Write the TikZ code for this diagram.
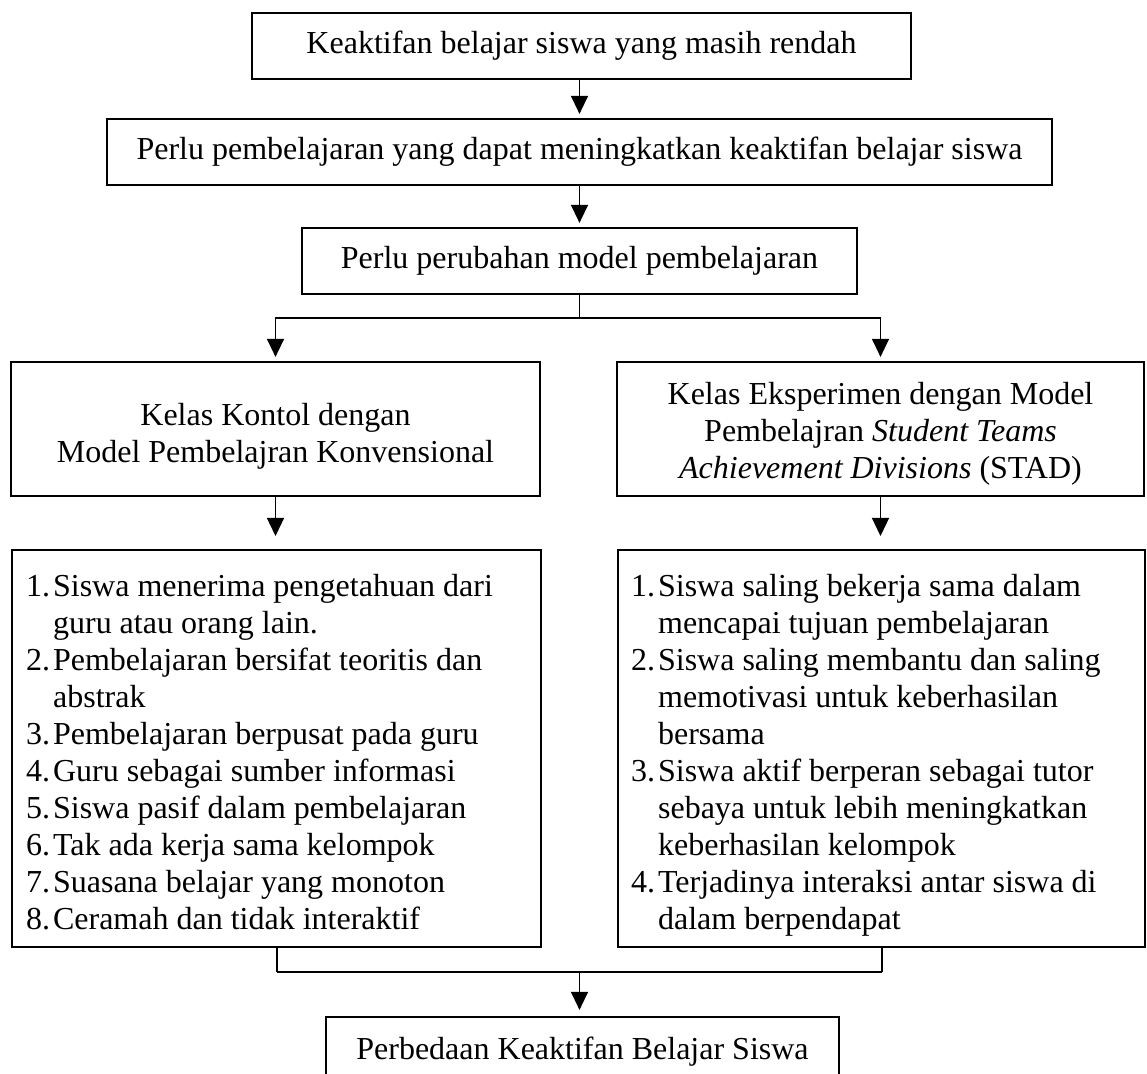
\documentclass[tikz,border=0pt]{standalone}
\usepackage{fontspec}
\setmainfont{Liberation Serif}
\usetikzlibrary{arrows.meta}
\newcommand{\itm}[1]{\makebox[13.5pt][l]{#1}}
\newcommand{\cnt}{\hspace*{13.5pt}}
\tikzset{
  box/.style={draw, line width=1.1pt, inner sep=0pt, align=center,
    font=\fontsize{16pt}{18.5pt}\selectfont},
  listbox/.style={box, anchor=north west, minimum height=198.5pt},
  conn/.style={line width=0.65pt},
  arr/.style={conn, -{Triangle[width=8.5pt,length=9pt]}, shorten >=2pt},
}
\begin{document}
\begin{tikzpicture}[x=0.5pt,y=-0.5pt]
\useasboundingbox (0,0) rectangle (1147,1074);
\clip (0,0) rectangle (1147,1074);

\node[box, minimum width=329.5pt, minimum height=33pt] (b1) at (581.5,46)
  {Keaktifan belajar siswa yang masih rendah};
\node[box, minimum width=472.5pt, minimum height=33pt] (b2) at (579.5,152)
  {Perlu pembelajaran yang dapat meningkatkan keaktifan belajar siswa};
\node[box, minimum width=277.5pt, minimum height=33pt] (b3) at (579.5,261)
  {Perlu perubahan model pembelajaran};
\node[box, minimum width=264.5pt, minimum height=67pt] (b4) at (275.5,429)
  {\rule{0pt}{18pt}Kelas Kontol dengan\\Model Pembelajran Konvensional};
\node[box, minimum width=263.5pt, minimum height=67pt] (b5) at (880.5,429)
  {\rule{0pt}{16pt}Kelas Eksperimen dengan Model\\Pembelajran \textit{Student Teams}\\\textit{Achievement Divisions} (STAD)};

\node[listbox, minimum width=264.5pt, inner xsep=7pt] (b6) at (11,549)
  {\parbox[t][198.5pt][t]{250.5pt}{\raggedright\vspace*{10.5pt}\strut
  \itm{1.}Siswa menerima pengetahuan dari\\
  \cnt guru atau orang lain.\\
  \itm{2.}Pembelajaran bersifat teoritis dan\\
  \cnt abstrak\\
  \itm{3.}Pembelajaran berpusat pada guru\\
  \itm{4.}Guru sebagai sumber informasi\\
  \itm{5.}Siswa pasif dalam pembelajaran\\
  \itm{6.}Tak ada kerja sama kelompok\\
  \itm{7.}Suasana belajar yang monoton\\
  \itm{8.}Ceramah dan tidak interaktif}};
\node[listbox, minimum width=263.5pt, inner xsep=6.5pt] (b7) at (617,549)
  {\parbox[t][198.5pt][t]{250.5pt}{\raggedright\vspace*{10.5pt}\strut
  \itm{1.}Siswa saling bekerja sama dalam\\
  \cnt mencapai tujuan pembelajaran\\
  \itm{2.}Siswa saling membantu dan saling\\
  \cnt memotivasi untuk keberhasilan\\
  \cnt bersama\\
  \itm{3.}Siswa aktif berperan sebagai tutor\\
  \cnt sebaya untuk lebih meningkatkan\\
  \cnt keberhasilan kelompok\\
  \itm{4.}Terjadinya interaksi antar siswa di\\
  \cnt dalam berpendapat}};

\node[box, minimum width=256.5pt, minimum height=35pt] (b8) at (582.5,1052)
  {Perbedaan Keaktifan Belajar Siswa};

\draw[arr] (b2.north |- b1.south) -- (b2.north);
\draw[arr] (b2.south) -- (b3.north);
\coordinate (j1) at (579.5,318);
\draw[conn] (b3.south) -- (j1);
\draw[arr] (j1) -| (b4.north);
\draw[arr] (j1) -| (b5.north);
\draw[arr, shorten >=6.5pt] (b4.south) -- (b4.south |- b6.north);
\draw[arr, shorten >=6.5pt] (b5.south) -- (b5.south |- b7.north);
\coordinate (j2) at (579.5,972);
\draw[line width=1pt] (b6.south) -- (b6.south |- j2);
\draw[line width=1pt] (b7.south) -- (b7.south |- j2);
\draw[line width=1.4pt] (b6.south |- j2) -- (b7.south |- j2);
\draw[arr, shorten >=3pt] (j2) -- (j2 |- b8.north);
\end{tikzpicture}
\end{document}
